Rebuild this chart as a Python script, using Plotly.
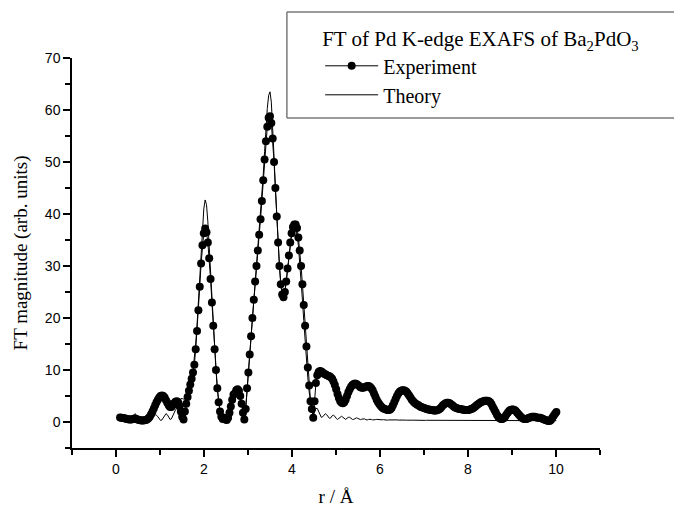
import numpy as np
import plotly.graph_objects as go

# FFT r-grid of the Fourier transform (Å)
R_START = 0.0921
R_STEP = 0.0307

experiment = [
    0.85, 0.8, 0.75, 0.7, 0.65, 0.6, 0.55,
    0.5, 0.5, 0.55, 0.6, 0.65, 0.6, 0.5, 0.4, 0.35, 0.3,
    0.3, 0.35, 0.4, 0.5, 0.7, 1.0, 1.5, 2.0, 2.6, 3.2,
    3.8, 4.3, 4.7, 5.0, 5.1, 5.0, 4.7, 4.2, 3.7, 3.2,
    2.9, 2.9, 3.2, 3.6, 3.9, 4.0, 3.8, 3.1, 2.0, 1.0,
    0.5, 2.0, 3.5, 4.8, 6.0, 7.2, 8.3, 9.5, 11.0, 14.0,
    17.5, 21.5, 26.0, 30.5, 34.0, 36.3, 37.2, 36.5, 34.5, 31.5,
    27.5, 23.0, 18.5, 14.0, 10.0, 6.5, 3.8, 2.0, 1.0, 0.6,
    0.8, 0.5, 0.4, 0.8, 1.8, 3.0, 4.3, 5.3, 5.5, 6.1,
    6.3, 6.0, 5.0, 3.5, 1.8, 0.5, 2.5, 6.5, 9.5, 13.0,
    16.5, 20.0, 23.5, 27.0, 30.0, 33.0, 36.0, 39.0, 42.5, 46.5,
    50.5, 54.0, 56.8, 58.5, 58.8, 57.5, 54.5, 50.0, 45.0, 39.5,
    34.5, 30.0, 26.5, 24.5, 24.0, 25.0, 27.0, 29.5, 32.0, 34.5,
    36.3, 37.5, 38.0, 38.0, 37.3, 35.5, 33.0, 30.0, 26.5, 22.5,
    18.5, 14.5, 10.5, 7.0, 4.0, 2.5, 0.8, 4.0, 7.5, 9.0,
    9.6, 9.8, 9.7, 9.5, 9.3, 9.2, 9.0, 8.9, 8.8, 8.6,
    8.3, 7.8, 7.1, 6.3, 5.4, 4.6, 4.0, 3.7, 3.6, 3.8,
    4.3, 5.0, 5.7, 6.3, 6.8, 7.1, 7.3, 7.4, 7.3, 7.1,
    6.9, 6.7, 6.6, 6.6, 6.7, 6.8, 6.9, 6.9, 6.8, 6.5,
    6.1, 5.5, 4.9, 4.3, 3.8, 3.4, 3.1, 2.8, 2.6, 2.5,
    2.4, 2.3, 2.3, 2.4, 2.7, 3.2, 3.8, 4.4, 5.0, 5.5,
    5.8, 6.0, 6.1, 6.1, 6.0, 5.8, 5.5, 5.1, 4.7, 4.3,
    4.0, 3.7, 3.5, 3.3, 3.2, 3.0, 2.9, 2.8, 2.7, 2.6,
    2.5, 2.4, 2.4, 2.3, 2.3, 2.2, 2.2, 2.2, 2.3, 2.4,
    2.6, 2.9, 3.2, 3.4, 3.6, 3.7, 3.7, 3.6, 3.4, 3.2,
    3.0, 2.8, 2.7, 2.6, 2.5, 2.5, 2.4, 2.4, 2.3, 2.3,
    2.3, 2.3, 2.4, 2.5, 2.6, 2.8, 3.0, 3.2, 3.4, 3.6,
    3.8, 3.9, 4.0, 4.1, 4.1, 4.1, 4.0, 3.8, 3.4, 2.9,
    2.4, 1.9, 1.4, 1.0, 0.7, 0.6, 0.6, 0.7, 1.0, 1.4,
    1.8, 2.1, 2.3, 2.4, 2.4, 2.3, 2.1, 1.8, 1.5, 1.2,
    0.9, 0.7, 0.6, 0.6, 0.6, 0.7, 0.8, 0.9, 1.0, 1.0,
    1.0, 0.9, 0.8, 0.8, 0.8, 0.7, 0.6, 0.5, 0.4, 0.3,
    0.2, 0.2, 0.4, 0.8, 1.2, 1.6, 1.9,
]

theory = [
    0.9, 0.85, 0.8, 0.75, 0.7, 0.65, 0.6,
    0.65, 0.8, 1.1, 1.4, 1.6, 1.4, 1.0, 0.6, 0.4, 0.3,
    0.3, 0.35, 0.4, 0.5, 0.6, 0.8, 1.0, 1.2, 1.35, 1.4,
    1.3, 1.0, 0.6, 0.3, 0.4, 0.9, 1.4, 1.6, 1.4, 0.9,
    0.5, 0.6, 1.2, 1.9, 2.3, 2.6, 3.2, 4.0, 4.5, 4.5,
    4.4, 4.5, 4.9, 5.5, 6.3, 7.3, 8.5, 10.0, 12.0, 15.0,
    18.7, 23.0, 28.0, 33.0, 37.5, 41.0, 42.7, 41.8, 38.5, 33.5,
    28.0, 23.0, 18.3, 14.0, 10.0, 6.5, 3.8, 2.0, 1.0, 0.5,
    0.6, 0.8, 0.6, 0.7, 1.5, 2.8, 4.0, 5.0, 5.6, 6.0,
    6.0, 5.4, 4.3, 3.0, 1.8, 1.0, 2.5, 6.0, 9.5, 13.0,
    16.5, 20.0, 23.5, 27.0, 30.0, 33.0, 36.0, 39.5, 43.0, 47.5,
    52.0, 56.5, 60.3, 62.8, 63.5, 61.5, 57.0, 51.0, 45.0, 39.5,
    34.5, 30.0, 26.5, 24.5, 24.0, 25.0, 27.0, 29.5, 32.0, 34.3,
    36.0, 37.0, 37.3, 37.0, 36.0, 34.0, 31.0, 27.5, 23.5, 19.5,
    15.5, 11.8, 8.5, 5.8, 3.6, 2.0, 1.2, 1.8, 2.6, 2.6,
    2.0, 1.3, 0.9, 1.0, 1.4, 1.6, 1.4, 1.0, 0.7, 0.8,
    1.2, 1.3, 1.1, 0.7, 0.5, 0.7, 1.0, 1.1, 0.9, 0.6,
    0.5, 0.7, 0.9, 0.9, 0.7, 0.5, 0.5, 0.7, 0.8, 0.7,
    0.5, 0.45, 0.55, 0.65, 0.6, 0.45, 0.4, 0.5, 0.55, 0.5,
    0.4, 0.38, 0.45, 0.5, 0.45, 0.38, 0.36, 0.42, 0.45, 0.4,
    0.35, 0.35, 0.4, 0.42, 0.38, 0.34, 0.34, 0.38, 0.4, 0.37,
    0.34, 0.32, 0.33, 0.36, 0.37, 0.35, 0.32, 0.31, 0.33, 0.35,
    0.35, 0.33, 0.31, 0.31, 0.33, 0.34, 0.33, 0.31, 0.3, 0.31,
    0.33, 0.33, 0.31, 0.3, 0.3, 0.31, 0.32, 0.32, 0.3, 0.29,
    0.3, 0.31, 0.31, 0.3, 0.29, 0.29, 0.3, 0.31, 0.3, 0.29,
    0.29, 0.3, 0.3, 0.3, 0.29, 0.28, 0.29, 0.3, 0.3, 0.29,
    0.28, 0.28, 0.29, 0.29, 0.29, 0.28, 0.28, 0.28, 0.29, 0.29,
    0.28, 0.28, 0.28, 0.28, 0.29, 0.28, 0.28, 0.27, 0.28, 0.28,
    0.28, 0.27, 0.27, 0.28, 0.28, 0.27, 0.27, 0.27, 0.28, 0.27,
    0.27, 0.27, 0.27, 0.27, 0.27, 0.27, 0.26, 0.27, 0.27, 0.27,
    0.26, 0.26, 0.27, 0.27, 0.26, 0.26, 0.26, 0.26, 0.26, 0.26,
    0.26, 0.26, 0.26, 0.26, 0.25, 0.26, 0.26, 0.25, 0.25, 0.26,
    0.25, 0.25, 0.25, 0.25, 0.25, 0.25, 0.25,
]

r_exp = R_START + R_STEP * np.arange(len(experiment))
r_th = R_START + R_STEP * np.arange(len(theory))

SERIF = "Liberation Serif, Times New Roman, serif"
SANS = "Liberation Sans, Arial, sans-serif"

fig = go.Figure()
fig.add_trace(go.Scatter(
    x=r_exp, y=experiment, name="Experiment", mode="lines+markers",
    line=dict(color="black", width=1),
    marker=dict(color="black", size=8, symbol="circle"),
))
fig.add_trace(go.Scatter(
    x=r_th, y=theory, name="Theory", mode="lines",
    line=dict(color="black", width=1),
))

axis_common = dict(
    showline=True, linecolor="black", linewidth=1.5, mirror=False,
    showgrid=False, zeroline=False, automargin=False,
    ticks="outside", ticklen=7, tickwidth=1.5, tickcolor="black",
    tickfont=dict(family=SANS, size=14, color="black"),
)

fig.update_xaxes(
    range=[-1, 11], tick0=0, dtick=2,
    minor=dict(ticks="outside", ticklen=5, tickwidth=1.5, tickcolor="black", dtick=1, tick0=0, showgrid=False),
    title=dict(text="r / Å", font=dict(family=SERIF, size=19, color="black"), standoff=14),
    **axis_common,
)
fig.update_yaxes(
    range=[-5, 70], tick0=0, dtick=10,
    minor=dict(ticks="outside", ticklen=5, tickwidth=1.5, tickcolor="black", dtick=5, tick0=0, showgrid=False),
    title=dict(text="FT magnitude (arb. units)", font=dict(family=SERIF, size=19, color="black"), standoff=12),
    **axis_common,
)

# legend frame: open on the right (it runs off the page in the original)
frame = dict(color="#7a7a7a", width=1.5)
fig.add_shape(type="line", xref="paper", yref="paper", x0=0.407, x1=0.407, y0=0.846, y1=1.118, line=frame)
fig.add_shape(type="line", xref="paper", yref="paper", x0=0.407, x1=2.0, y0=1.118, y1=1.118, line=frame)
fig.add_shape(type="line", xref="paper", yref="paper", x0=0.407, x1=2.0, y0=0.846, y1=0.846, line=frame)

fig.update_layout(
    width=674, height=509,
    margin=dict(l=72, r=74, t=58, b=61, pad=0),
    paper_bgcolor="white", plot_bgcolor="white",
    showlegend=True,
    legend=dict(
        x=0.47, y=1.1, xanchor="left", yanchor="top",
        bgcolor="rgba(0,0,0,0)", borderwidth=0,
        font=dict(family=SERIF, size=20, color="black"),
        title=dict(text="FT of Pd K-edge EXAFS of Ba<sub>2</sub>PdO<sub>3</sub>",
                   font=dict(family=SERIF, size=21, color="black"), side="top"),
        tracegroupgap=0, itemwidth=53,
    ),
)

fig.write_html("out.html")
